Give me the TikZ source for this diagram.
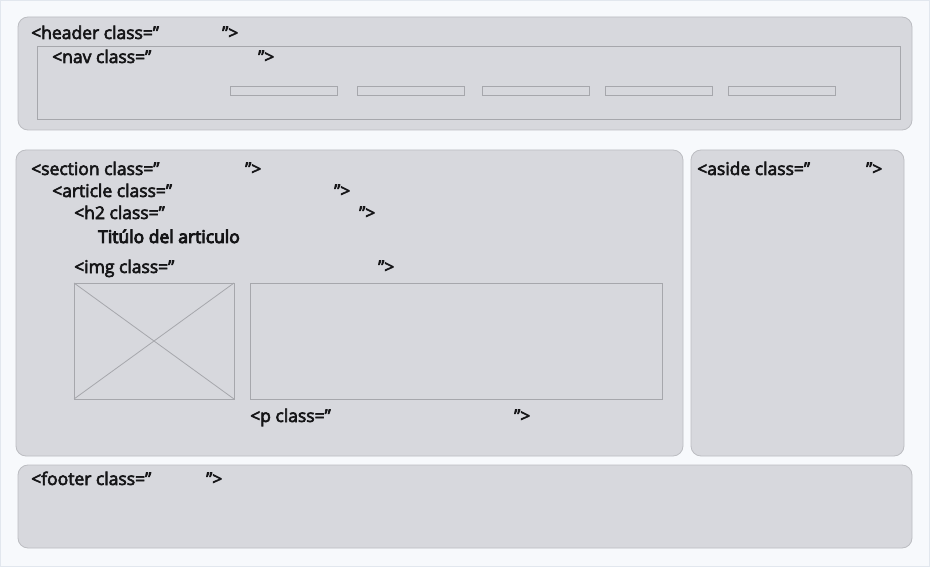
\documentclass[tikz,border=0pt]{standalone}
\usepackage{fontspec}
\setmainfont{Open Sans}
\usetikzlibrary{positioning}

\definecolor{pagebg}{HTML}{F7F9FC}
\definecolor{pageedge}{HTML}{E2E7EE}
\definecolor{boxfill}{HTML}{D7D8DD}
\definecolor{boxline}{HTML}{BCBDC2}
\definecolor{innerline}{HTML}{A6A7AC}
\definecolor{tagtext}{HTML}{151517}

% stroke the glyphs a little to get a medium weight
\newcommand\heavy[2]{\special{pdf:literal direct 2 Tr #1 w}#2\special{pdf:literal direct 0 Tr}}
\newcommand\tagtxt[1]{\heavy{0.6}{#1}}

\tikzset{
  block/.style={fill=boxfill, draw=boxline, line width=0.8pt, rounded corners=10pt},
  frame/.style={draw=innerline, line width=0.8pt},
  tag/.style={anchor=base west, inner sep=0pt, text=tagtext, font=\fontsize{17.5}{20}\selectfont},
}

\begin{document}
\begin{tikzpicture}[x=1pt, y=-1pt]
      % page
      \useasboundingbox (0,0) rectangle (930,567);
      \fill[pagebg] (0,0) rectangle (930,567);
      \draw[pageedge] (0.5,0.5) rectangle (929.5,566.5);

      % header
      \draw[block] (18,17) rectangle (912,130);
      \draw[frame] (37,46) rectangle (900,119); % nav
      \foreach \x in {230,357,482,605,728}
        \draw[frame] (\x,86) rectangle ++(107,9); % menu items

      % section, aside, footer
      \draw[block] (16,150) rectangle (683,456);
      \draw[block] (691,150) rectangle (904,456);
      \draw[block] (18,465) rectangle (912,548);

      % img and p
      \draw[frame] (74,283) rectangle (234,399);
      \draw[frame] (74,283) -- (234,399);
      \draw[frame] (74,399) -- (234,283);
      \draw[frame] (250,283) rectangle (662,399);

      % labels
      \node[tag] (header) at (31,39) {\tagtxt{<header class=”}};
      \node[tag] (headerend) at (222,39) {\tagtxt{”>}};
      \node[tag] (nav) at (52,63) {\tagtxt{<nav class=”}};
      \node[tag] (navend) at (258,63) {\tagtxt{”>}};
      \node[tag] (section) at (31,175) {\tagtxt{<section class=”}};
      \node[tag] (sectionend) at (245,175) {\tagtxt{”>}};
      \node[tag] (article) at (52,197) {\tagtxt{<article class=”}};
      \node[tag] (articleend) at (334,197) {\tagtxt{”>}};
      \node[tag] (htwo) at (74,219) {\tagtxt{<h2 class=”}};
      \node[tag] (htwoend) at (359,219) {\tagtxt{”>}};
      \node[tag] (title) at (98,243) {\heavy{0.9}{Titúlo del articulo}};
      \node[tag] (img) at (74,273) {\tagtxt{<img class=”}};
      \node[tag] (imgend) at (378,273) {\tagtxt{”>}};
      \node[tag] (para) at (250,422) {\tagtxt{<p class=”}};
      \node[tag] (paraend) at (514,422) {\tagtxt{”>}};
      \node[tag] (aside) at (697,175) {\tagtxt{<aside class=”}};
      \node[tag] (asideend) at (866,175) {\tagtxt{”>}};
      \node[tag] (footer) at (31,485) {\tagtxt{<footer class=”}};
      \node[tag] (footerend) at (206,485) {\tagtxt{”>}};
\end{tikzpicture}
\end{document}
